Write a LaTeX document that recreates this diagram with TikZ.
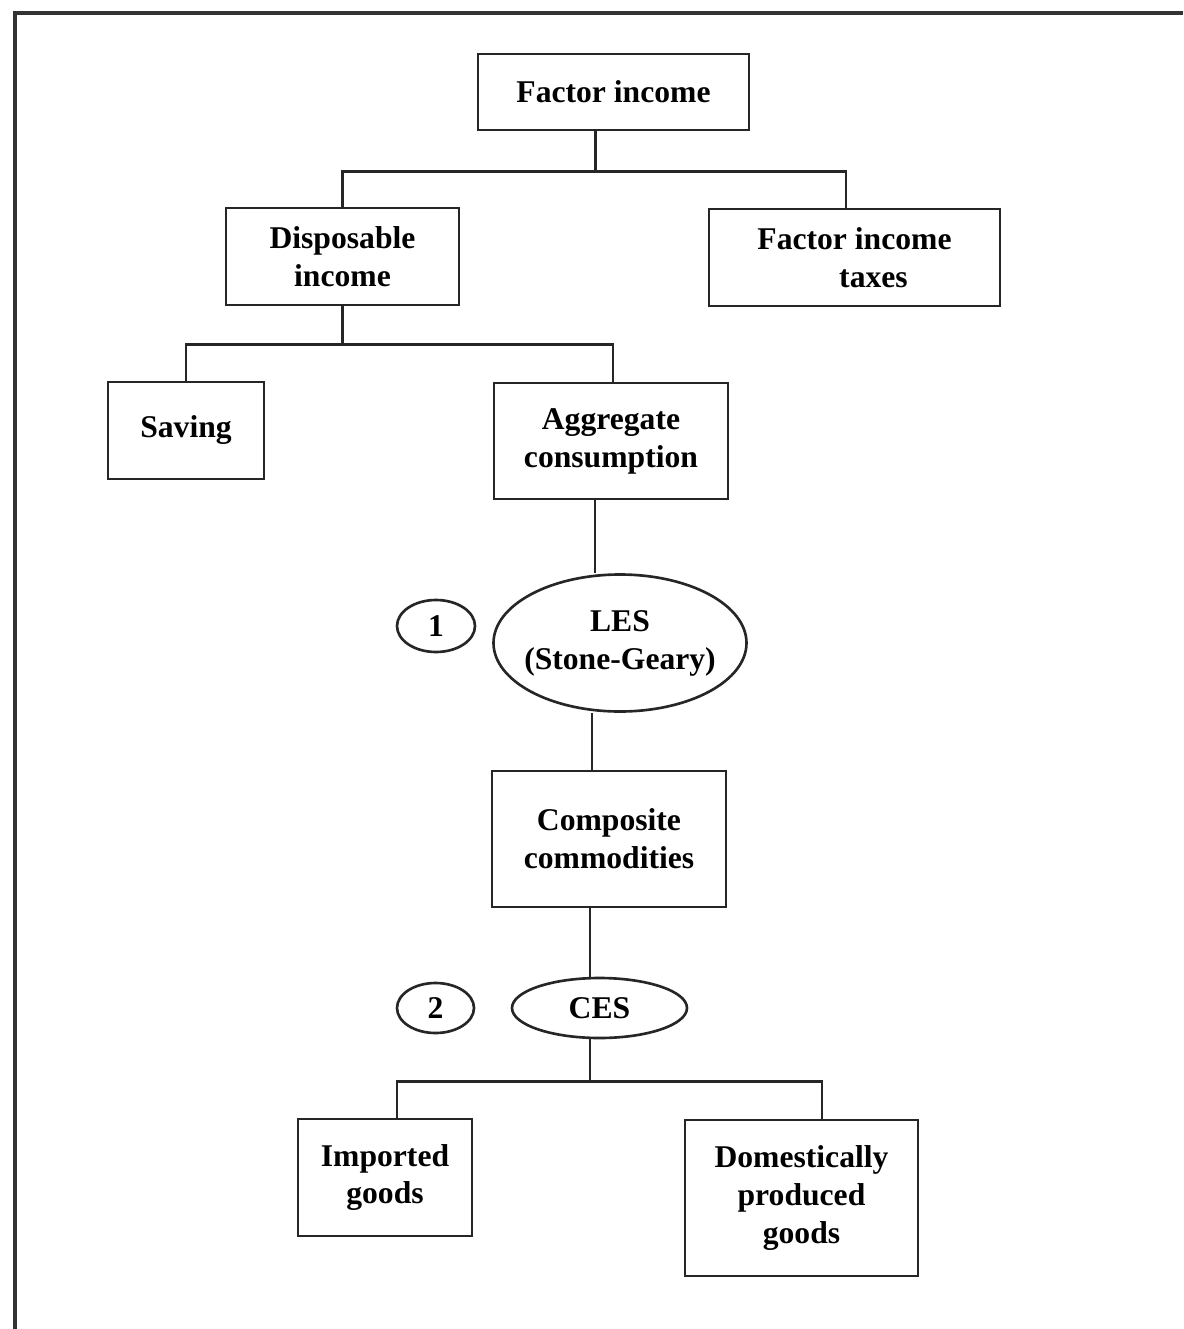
\documentclass[tikz,border=0pt]{standalone}
\usepackage{fontspec}
\setmainfont{Liberation Serif}
\usetikzlibrary{shapes.geometric}

\begin{document}
\begin{tikzpicture}[
    font=\bfseries\fontsize{18}{21.6}\selectfont,
    box/.style={draw=black!85, line width=1.5pt, align=center, inner sep=2pt},
    oval/.style={draw=black!85, ellipse, line width=1.5pt, align=center, inner xsep=-0.25cm, inner ysep=0pt},
    link/.style={draw=black!85, line width=1.5pt},
    frame/.style={draw=black!80, line width=2pt}
]
\useasboundingbox (0,0) rectangle (23.66,-26.58);
\draw[frame] (0.30,-26.58) -- (0.30,-0.26) -- (23.66,-0.26);

\node[box, minimum width=5.42cm, minimum height=1.52cm] (finc) at (12.27,-1.84) {Factor income};
\node[box, minimum width=4.66cm, minimum height=1.94cm] (disp) at (6.85,-5.13) {Disposable\\income};
\node[box, minimum width=5.82cm, minimum height=1.94cm] (ftax) at (17.09,-5.15) {Factor income\\\hspace{1.2em}taxes};
\node[box, minimum width=3.12cm, minimum height=1.94cm] (sav) at (3.72,-8.61) {Saving};
\node[box, minimum width=4.68cm, minimum height=2.32cm] (aggc) at (12.22,-8.82) {Aggregate\\consumption};
\node[oval, minimum width=5.06cm, minimum height=2.74cm] (les) at (12.40,-12.86) {LES\\(Stone-Geary)};
\node[oval, minimum width=1.56cm, minimum height=1.04cm] (num1) at (8.72,-12.52) {1};
\node[box, minimum width=4.68cm, minimum height=2.72cm] (comp) at (12.18,-16.78) {Composite\\commodities};
\node[oval, minimum width=3.50cm, minimum height=1.20cm] (ces) at (11.99,-20.16) {CES};
\node[oval, minimum width=1.54cm, minimum height=1.00cm] (num2) at (8.71,-20.16) {2};
\node[box, minimum width=3.48cm, minimum height=2.34cm] (imp) at (7.70,-23.55) {Imported\\goods};
\node[box, minimum width=4.66cm, minimum height=3.12cm] (dom) at (16.03,-23.96) {Domestically\\produced\\goods};

% income split
\draw[link] ([xshift=-0.36cm]finc.south) -- ++(0,-0.80) coordinate (fsplit);
\draw[link] (fsplit) -| (disp.north);
\draw[link] (fsplit) -| ([xshift=-0.17cm]ftax.north);
\draw[link] (disp.south) -- ++(0,-0.76) coordinate (dsplit);
\draw[link] (dsplit) -| (sav.north);
\draw[link] (dsplit) -| ([xshift=0.04cm]aggc.north);

% consumption chain
\draw[link] ([xshift=-0.32cm]aggc.south) -- ([xshift=-0.32cm]aggc.south |- les.north);
\draw[link] ([xshift=-0.34cm]comp.north) -- ([xshift=-0.34cm]comp.north |- les.south);
\draw[link] ([xshift=-0.38cm]comp.south) -- ([xshift=-0.38cm]comp.south |- ces.north);
\draw[link] ([xshift=-0.19cm]ces.south) -- ++(0,-0.84) coordinate (csplit);
\draw[link] (csplit) -| ([xshift=0.24cm]imp.north);
\draw[link] (csplit) -| ([xshift=0.41cm]dom.north);
\end{tikzpicture}
\end{document}
